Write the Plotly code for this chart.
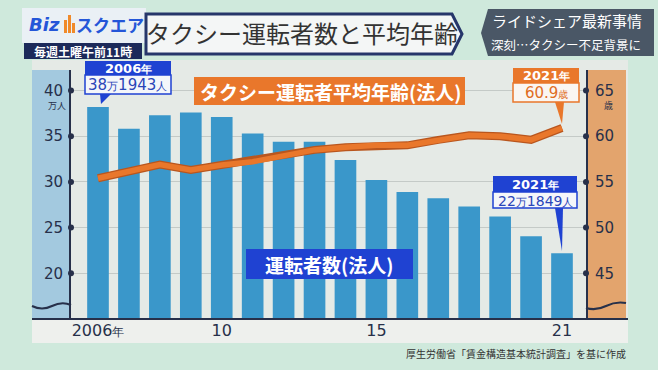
import plotly.graph_objects as go

W, H = 658, 370

# ---------------- data ----------------
years = list(range(2006, 2022))
drivers = [38.19, 35.8, 37.3, 37.6, 37.1, 35.3, 34.4, 34.4, 32.4, 30.2,
           28.9, 28.2, 27.3, 26.2, 24.05, 22.18]          # 万人
avg_age = [55.4, 56.2, 56.9, 56.3, 56.85, 57.2, 57.8, 58.5, 58.8, 59.0,
           59.0, 59.6, 60.1, 60.0, 59.6, 60.9]             # 歳
left_ticks = [20, 25, 30, 35, 40]
right_ticks = [45, 50, 55, 60, 65]
x_ticks = [2006, 2010, 2015, 2021]
x_ticktext = ["2006<span style='font-size:12px'>年</span>", "10", "15", "21"]

JP = "Noto Sans CJK JP"
NUM = "DejaVu Sans"
BLUE_BAR = "#3a97ca"
ORANGE = "#e9772b"
ROYAL = "#1f42d2"
NAVY = "#27304a"

XR = [2005.127, 2021.776]
YR = [15, 42.24]
Y2R = [40, 67.24]


def px(x):
    return x / W


def py(y):
    return 1 - y / H


def rect(x0, y0, x1, y1, fill, line=None, lw=0, layer="above"):
    return dict(type="rect", xref="paper", yref="paper",
                x0=px(x0), x1=px(x1), y0=py(y1), y1=py(y0),
                fillcolor=fill, layer=layer,
                line=dict(color=line or fill, width=lw))


def poly(points, fill, line=None, lw=0, layer="above"):
    d = "M " + " L ".join(f"{px(a):.5f},{py(b):.5f}" for a, b in points) + " Z"
    return dict(type="path", xref="paper", yref="paper", path=d,
                fillcolor=fill, layer=layer,
                line=dict(color=line or fill, width=lw))


def ann(x, y, text, size, color, family=JP, xanchor="center"):
    return dict(x=px(x), y=py(y), xref="paper", yref="paper", text=text,
                showarrow=False, xanchor=xanchor, yanchor="middle",
                font=dict(size=size, color=color, family=family))


fig = go.Figure()

fig.add_trace(go.Bar(x=years, y=drivers, width=0.7,
                     marker=dict(color=BLUE_BAR, line=dict(width=0)),
                     yaxis="y", hoverinfo="skip"))
fig.add_trace(go.Scatter(x=years, y=avg_age, yaxis="y2", mode="lines",
                         line=dict(color="#b9561e", width=8), hoverinfo="skip"))
fig.add_trace(go.Scatter(x=years, y=avg_age, yaxis="y2", mode="lines",
                         line=dict(color=ORANGE, width=5.5), hoverinfo="skip"))
# tick dots on the axis lines
fig.add_trace(go.Scatter(x=[XR[0]] * len(left_ticks), y=left_ticks, mode="markers",
                         marker=dict(color=NAVY, size=6), cliponaxis=False,
                         yaxis="y", hoverinfo="skip"))
fig.add_trace(go.Scatter(x=[XR[1]] * len(right_ticks), y=right_ticks, mode="markers",
                         marker=dict(color=NAVY, size=6), cliponaxis=False,
                         yaxis="y2", hoverinfo="skip"))

shapes = []
# chart panel
shapes.append(rect(32, 60, 628, 343, "#e5eae6", layer="below"))
shapes.append(rect(32, 319, 628, 343, "#eef0ed", layer="below"))
shapes.append(rect(32, 70, 71, 319, "#a3c9df", layer="below"))
shapes.append(rect(586, 70, 626, 319, "#e3a46d", layer="below"))
# baseline
shapes.append(dict(type="line", xref="paper", yref="paper",
                   x0=px(32), x1=px(628), y0=py(319), y1=py(319),
                   line=dict(color=NAVY, width=2)))
# axis break squiggles
shapes.append(dict(type="path", xref="paper", yref="paper",
                   path=(f"M {px(32)},{py(306)} Q {px(42)},{py(311)} {px(52)},{py(306)} "
                         f"Q {px(62)},{py(301)} {px(71)},{py(305)}"),
                   line=dict(color=NAVY, width=2)))
shapes.append(dict(type="path", xref="paper", yref="paper",
                   path=(f"M {px(586)},{py(308)} Q {px(596)},{py(311)} {px(606)},{py(306)} "
                         f"Q {px(616)},{py(301)} {px(626)},{py(303)}"),
                   line=dict(color=NAVY, width=2)))

# header: logo
shapes.append(rect(22, 8, 146, 43, "#eaf0f5"))
shapes.append(rect(64, 20, 67, 33, "#f08a2a"))
shapes.append(rect(68, 15, 71, 33, "#f08a2a"))
shapes.append(rect(72, 23, 75, 33, "#f08a2a"))
shapes.append(rect(24, 43, 142, 59, "#1c2a5a"))
# title box
shapes.append(poly([(146, 14), (452, 14), (462, 34), (452, 54), (146, 54)],
                   "#f4f6f6", line="#26366a", lw=3))
# right info box
shapes.append(poly([(481, 33), (488, 9), (654, 9), (654, 56), (488, 56)], "#4a5766"))

# series labels
shapes.append(rect(194, 77, 465, 105, ORANGE))
shapes.append(rect(246, 249, 413, 279, ROYAL))

# 2006 callout
shapes.append(rect(85, 61, 171, 75, ROYAL))
shapes.append(rect(85, 75, 171, 94, "#f4f6fa", line=ROYAL, lw=1.5))
shapes.append(poly([(100, 94), (111, 94), (101, 104)], ROYAL))
# 2021 drivers callout
shapes.append(rect(493, 176, 577, 192, ROYAL))
shapes.append(rect(493, 192, 577, 208, "#f4f6fa", line=ROYAL, lw=1.5))
shapes.append(poly([(555, 208), (563, 208), (562, 251)], ROYAL))
# 2021 age callout
shapes.append(rect(513, 68, 579, 83, ORANGE))
shapes.append(rect(513, 83, 579, 102, "#faf6f2", line=ORANGE, lw=1.5))
shapes.append(poly([(555, 102), (564, 102), (562, 124)], ORANGE))

annotations = [
    ann(44, 25, "<b><i>Biz</i></b>", 18, "#2456d8", family="DejaVu Sans"),
    ann(110, 25, "<b>スクエア</b>", 17, "#2456d8"),
    ann(83, 51, "<b>毎週土曜午前11時</b>", 12, "white"),
    ann(302, 33, "タクシー運転者数と平均年齢", 24, "#333333"),
    ann(567, 21, "ライドシェア最新事情", 15, "white"),
    ann(566, 44, "深刻…タクシー不足背景に", 12.5, "white"),
    ann(330, 91, "<b>タクシー運転者平均年齢(法人)</b>", 19, "white"),
    ann(329, 264, "<b>運転者数(法人)</b>", 19, "white"),
    ann(128, 68, "<b>2006<span style='font-size:11px'>年</span></b>", 13, "white", family=NUM),
    ann(127, 84.5, "38<span style='font-size:11px'>万</span>1943<span style='font-size:11px'>人</span>",
        15, "#2a45b8", family=NUM),
    ann(535, 184, "<b>2021<span style='font-size:11px'>年</span></b>", 13, "white", family=NUM),
    ann(535, 200.5, "22<span style='font-size:11px'>万</span>1849<span style='font-size:11px'>人</span>",
        14, "#2a45b8", family=NUM),
    ann(546, 75.5, "<b>2021<span style='font-size:11px'>年</span></b>", 13, "white", family=NUM),
    ann(546, 92.5, "60.9<span style='font-size:10px'>歳</span>", 15, "#e06d1f", family=NUM),
    ann(57, 106, "万人", 9, NAVY),
    ann(608, 106, "歳", 9, NAVY),
    ann(628, 353, "厚生労働省「賃金構造基本統計調査」を基に作成", 10, "#333333", xanchor="right"),
]

fig.update_layout(
    width=W, height=H,
    margin=dict(l=0, r=0, t=0, b=0),
    paper_bgcolor="#cfe9dc",
    plot_bgcolor="rgba(0,0,0,0)",
    showlegend=False,
    bargap=0.3,
    xaxis=dict(domain=[px(71), px(586)], range=XR, tickvals=x_ticks, ticktext=x_ticktext,
               showgrid=False, zeroline=False, showline=False, ticks="",
               tickfont=dict(family=NUM, size=16, color=NAVY)),
    yaxis=dict(domain=[py(319), py(70)], range=YR, tickvals=left_ticks,
               showgrid=True, gridcolor="#c4cac7", gridwidth=1, zeroline=False,
               showline=True, linecolor=NAVY, linewidth=2,
               ticks="outside", ticklen=3, tickcolor="rgba(0,0,0,0)",
               tickfont=dict(family=NUM, size=15, color=NAVY)),
    yaxis2=dict(domain=[py(319), py(70)], range=Y2R, tickvals=right_ticks, overlaying="y",
                side="right", anchor="x", showgrid=False, zeroline=False,
                showline=True, linecolor=NAVY, linewidth=2,
                ticks="outside", ticklen=4, tickcolor="rgba(0,0,0,0)",
                tickfont=dict(family=NUM, size=15, color=NAVY)),
    shapes=shapes,
    annotations=annotations,
)

fig.write_html("out.html",
               config=dict(displayModeBar=False, staticPlot=True),
               post_script="document.body.style.margin='0';document.body.style.padding='0';"
                           "document.body.style.overflow='hidden';")
